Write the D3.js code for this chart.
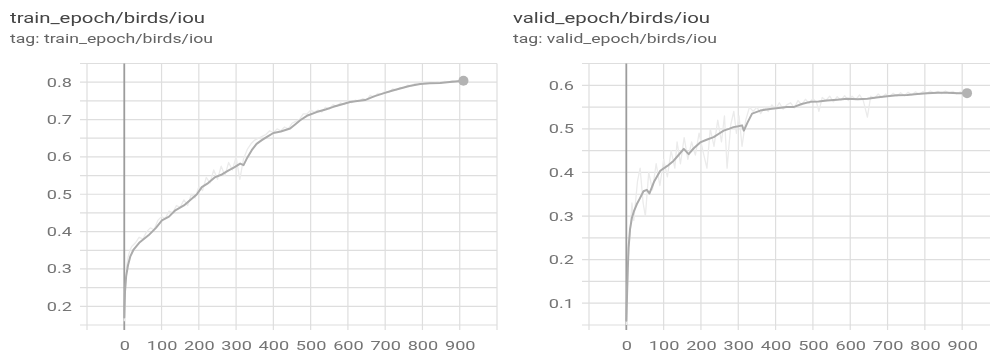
<!DOCTYPE html>
<html>
<head>
<meta charset="utf-8">
<script src="https://cdn.jsdelivr.net/npm/d3@7"></script>
<style>
  html, body { margin: 0; padding: 0; background: #fff; }
  svg { display: block; font-family: Roboto, "Noto Sans", sans-serif; }
</style>
</head>
<body>
<svg id="chart" width="990" height="358"></svg>
<script>
// ---- data: IoU per epoch (raw and smoothed) ----
const trainTitle = "train_epoch/birds/iou";
const validTitle = "valid_epoch/birds/iou";

const stepTicks = [0, 100, 200, 300, 400, 500, 600, 700, 800, 900];
const trainValueTicks = [0.2, 0.3, 0.4, 0.5, 0.6, 0.7, 0.8];
const validValueTicks = [0.1, 0.2, 0.3, 0.4, 0.5, 0.6];

const trainSmoothed = [
  [0,0.17],[2,0.24],[5,0.28],[10,0.31],[16,0.333],[25,0.352],[40,0.37],[65,0.39],
  [85,0.41],[101,0.43],[120,0.44],[137,0.457],[160,0.47],[181,0.488],[195,0.5],
  [208,0.519],[225,0.53],[244,0.546],[262,0.553],[280,0.564],[295,0.572],[311,0.582],
  [320,0.578],[330,0.598],[342,0.618],[355,0.635],[369,0.645],[385,0.655],[400,0.664],
  [420,0.668],[445,0.676],[460,0.688],[472,0.698],[490,0.71],[516,0.72],[540,0.727],
  [561,0.734],[585,0.741],[606,0.747],[630,0.75],[646,0.752],[670,0.762],[695,0.77],
  [718,0.777],[740,0.783],[765,0.79],[794,0.795],[820,0.797],[847,0.798],[880,0.801],
  [910,0.804]
];

const trainRaw = [
  [0,0.16],[5,0.3],[10,0.33],[15,0.35],[20,0.36],[30,0.37],[40,0.385],[50,0.38],
  [60,0.4],[70,0.41],[80,0.405],[90,0.43],[100,0.44],[110,0.435],[120,0.455],[130,0.45],
  [140,0.47],[150,0.465],[160,0.485],[170,0.47],[180,0.5],[190,0.49],[200,0.52],[210,0.51],
  [220,0.545],[230,0.53],[240,0.565],[250,0.54],[260,0.575],[270,0.55],[280,0.585],
  [290,0.565],[300,0.6],[310,0.54],[320,0.595],[330,0.62],[340,0.635],[350,0.645],
  [360,0.65],[370,0.655],[380,0.66],[390,0.67],[400,0.665],[410,0.675],[420,0.67],
  [430,0.68],[440,0.675],[450,0.69],[460,0.695],[470,0.7],[480,0.715],[490,0.715],
  [500,0.725],[510,0.72],[520,0.725],[530,0.72],[540,0.733],[550,0.728],[560,0.74],
  [570,0.735],[580,0.745],[590,0.74],[600,0.75],[610,0.745],[620,0.752],[630,0.748],
  [640,0.756],[650,0.752],[660,0.765],[670,0.76],[680,0.77],[690,0.768],[700,0.776],
  [710,0.773],[720,0.782],[730,0.779],[740,0.786],[750,0.785],[760,0.792],[770,0.79],
  [780,0.796],[790,0.794],[800,0.799],[810,0.796],[820,0.8],[830,0.797],[840,0.801],
  [850,0.798],[860,0.802],[870,0.8],[880,0.804],[890,0.801],[900,0.805],[910,0.804]
];

const validSmoothed = [
  [0,0.06],[2,0.12],[4,0.18],[6,0.227],[10,0.27],[15,0.296],[20,0.31],[28,0.327],
  [36,0.34],[46,0.357],[55,0.36],[62,0.352],[75,0.38],[91,0.404],[110,0.415],[127,0.427],
  [140,0.44],[154,0.454],[167,0.442],[180,0.455],[198,0.469],[215,0.475],[234,0.481],
  [250,0.49],[261,0.496],[275,0.5],[287,0.504],[300,0.506],[310,0.508],[315,0.496],
  [325,0.515],[337,0.535],[359,0.542],[380,0.545],[408,0.548],[430,0.55],[448,0.55],
  [470,0.557],[493,0.562],[515,0.563],[538,0.565],[565,0.567],[592,0.569],[620,0.568],
  [646,0.569],[670,0.572],[699,0.575],[725,0.577],[753,0.578],[780,0.58],[806,0.582],
  [835,0.583],[860,0.583],[890,0.582],[913,0.582]
];

const validRaw = [
  [0,0.05],[5,0.2],[10,0.26],[15,0.33],[20,0.29],[30,0.38],[37,0.41],[45,0.33],[51,0.3],
  [60,0.4],[70,0.36],[80,0.42],[90,0.37],[100,0.43],[110,0.39],[120,0.45],[130,0.41],
  [136,0.47],[145,0.42],[155,0.48],[165,0.43],[175,0.47],[185,0.44],[195,0.49],[205,0.45],
  [216,0.41],[225,0.5],[235,0.46],[245,0.52],[255,0.47],[263,0.53],[270,0.41],[280,0.51],
  [288,0.54],[295,0.49],[302,0.53],[310,0.46],[320,0.52],[330,0.55],[340,0.54],[350,0.55],
  [360,0.535],[370,0.55],[380,0.54],[390,0.555],[400,0.545],[410,0.56],[420,0.545],
  [430,0.555],[440,0.56],[450,0.548],[460,0.565],[470,0.555],[480,0.568],[490,0.558],
  [500,0.57],[510,0.56],[516,0.54],[525,0.572],[535,0.565],[545,0.575],[555,0.562],
  [565,0.574],[575,0.566],[585,0.576],[595,0.565],[605,0.575],[615,0.567],[625,0.578],
  [635,0.565],[646,0.527],[655,0.575],[665,0.57],[675,0.58],[685,0.572],[695,0.58],
  [705,0.574],[715,0.582],[725,0.575],[735,0.583],[745,0.576],[755,0.584],[765,0.578],
  [775,0.585],[785,0.579],[795,0.586],[805,0.581],[815,0.587],[825,0.582],[835,0.586],
  [845,0.581],[855,0.587],[865,0.582],[875,0.586],[885,0.58],[895,0.585],[905,0.581],
  [913,0.583]
];

// ---- drawing ----
const svg = d3.select("#chart");

// slight softening of the whole figure
svg.append("defs").append("filter").attr("id", "soft")
  .attr("x", "-5%").attr("y", "-5%").attr("width", "110%").attr("height", "110%")
  .append("feGaussianBlur").attr("stdDeviation", 0.45);

const root = svg.append("g").attr("filter", "url(#soft)");

// stretch text horizontally by a factor
function widen(sel, factor) {
  sel.each(function () {
    const len = this.getComputedTextLength();
    d3.select(this)
      .attr("textLength", len * factor)
      .attr("lengthAdjust", "spacingAndGlyphs");
  });
}

function drawPanel(opt) {
  const g = root.append("g");

  // headings
  g.append("text")
    .attr("x", opt.left).attr("y", 23)
    .attr("font-size", 15).attr("fill", "#444")
    .attr("textLength", opt.titleWidth).attr("lengthAdjust", "spacingAndGlyphs")
    .text(opt.title);
  g.append("text")
    .attr("x", opt.left).attr("y", 43)
    .attr("font-size", 12).attr("fill", "#636363")
    .attr("textLength", opt.tagWidth).attr("lengthAdjust", "spacingAndGlyphs")
    .text("tag: " + opt.title);

  const x = d3.scaleLinear().domain([-100, 1000]).range([opt.x0, opt.x1]);
  const y = d3.scaleLinear().domain(opt.yDomain).range([325, 63.5]);

  const yGrid = d3.range(opt.yDomain[0], opt.yDomain[1] + 0.001, 0.05).map(v => +v.toFixed(2));
  const xGrid = d3.range(-100, 1001, 100);

  // horizontal grid (extends left as a tick stub)
  g.append("g").selectAll("line").data(yGrid).join("line")
    .attr("x1", opt.x0 - 7).attr("x2", opt.x1)
    .attr("y1", d => y(d)).attr("y2", d => y(d))
    .attr("stroke", "#dedede").attr("stroke-width", 1.2);

  // vertical grid (extends below as a tick stub)
  g.append("g").selectAll("line").data(xGrid).join("line")
    .attr("x1", d => x(d)).attr("x2", d => x(d))
    .attr("y1", y.range()[1]).attr("y2", 330)
    .attr("stroke", d => d === 0 ? "#9c9c9c" : "#dedede")
    .attr("stroke-width", d => d === 0 ? 1.8 : 1.2);

  // y axis labels
  const yAxis = d3.axisLeft(y).tickValues(opt.yTicks).tickSize(0).tickPadding(0)
    .tickFormat(d3.format(".1f"));
  const ya = g.append("g").attr("transform", `translate(${opt.x0 - 15},0)`).call(yAxis);
  ya.select(".domain").remove();
  ya.selectAll("text").attr("font-size", 12.5).attr("fill", "#747474")
    .attr("font-family", "Roboto, sans-serif");
  widen(ya.selectAll("text"), 1.45);

  // x axis labels
  const xAxis = d3.axisBottom(x).tickValues(stepTicks).tickSize(0).tickPadding(0);
  const xa = g.append("g").attr("transform", `translate(0,${340})`).call(xAxis);
  xa.select(".domain").remove();
  xa.selectAll("text").attr("font-size", 12.5).attr("fill", "#747474")
    .attr("font-family", "Roboto, sans-serif").attr("dy", "0.8em");
  widen(xa.selectAll("text"), 1.45);

  const line = d3.line().x(d => x(d[0])).y(d => y(d[1])).curve(d3.curveLinear);

  // raw series (faint)
  g.append("path").datum(opt.raw)
    .attr("d", line).attr("fill", "none")
    .attr("stroke", "#ebebeb").attr("stroke-width", 1.3)
    .attr("stroke-linejoin", "round");

  // smoothed series
  g.append("path").datum(opt.smoothed)
    .attr("d", line).attr("fill", "none")
    .attr("stroke", "#ababab").attr("stroke-width", 2)
    .attr("stroke-linejoin", "round").attr("stroke-linecap", "round");

  // last point marker
  const last = opt.smoothed[opt.smoothed.length - 1];
  g.append("circle")
    .attr("cx", x(last[0])).attr("cy", y(last[1])).attr("r", 5)
    .attr("fill", "#b3b3b3");
}

drawPanel({
  title: trainTitle, left: 10, titleWidth: 195, tagWidth: 203,
  x0: 87, x1: 497, yDomain: [0.15, 0.85], yTicks: trainValueTicks,
  raw: trainRaw, smoothed: trainSmoothed
});

drawPanel({
  title: validTitle, left: 513, titleWidth: 197, tagWidth: 204,
  x0: 589, x1: 999.5, yDomain: [0.05, 0.65], yTicks: validValueTicks,
  raw: validRaw, smoothed: validSmoothed
});
</script>
</body>
</html>
